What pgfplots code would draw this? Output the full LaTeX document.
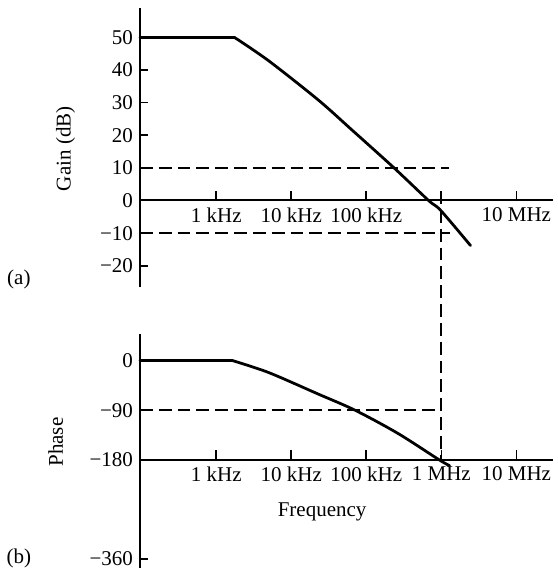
\documentclass[border=0pt]{standalone}
\usepackage{fontspec}
\setmainfont{Liberation Serif}
\usepackage{pgfplots}
\pgfplotsset{compat=1.18}
\usetikzlibrary{calc}

\tikzset{
  mycurve/.style={black, line width=1.4pt, line join=round, line cap=round},
  mydash/.style={black, line width=0.95pt, dash pattern=on 6.5pt off 3pt},
}

\begin{document}
\begin{tikzpicture}[font=\fontsize{10.6pt}{12.5pt}\selectfont]

% ---------- (a) Gain ----------
\begin{axis}[name=g1, at={(0,0)}, anchor=north west,
  scale only axis, width=208.5pt, height=141pt,
  xmode=log, xmin=96.2, xmax=3.09e7, ymin=-26.6, ymax=59,
  axis y line=left, axis x line=none, xtick=\empty,
  xminorticks=false, yminorticks=false,
  axis line style={line width=1pt, -},
  tick style={line width=0.8pt, black}, tick align=inside, major tick length=4pt,
  ytick={50,40,30,20,10,0,-10,-20},
  yticklabels={50,40,30,20,10,0,−10,−20},
  ylabel={Gain (dB)},
  every axis y label/.style={at={(axis description cs:-0.18,0.496)}, rotate=90, anchor=center},
  clip=false,
]
\node at (axis description cs:-0.293,0.028) {(a)};
\end{axis}

\begin{axis}[name=g2, at={(g1.north west)}, anchor=north west,
  scale only axis, width=208.5pt, height=97.17pt,
  xmode=log, xmin=96.2, xmax=3.09e7, ymin=0, ymax=59,
  axis x line=bottom, axis y line=none, ytick=\empty,
  xminorticks=false, yminorticks=false,
  axis line style={line width=1pt, -},
  tick style={line width=0.8pt, black}, tick align=inside, major tick length=5pt,
  xtick={1e3,1e4,1e5,1e6,1e7},
  xticklabels={1 kHz,10 kHz,100 kHz,{},10 MHz},
  clip=false,
]
% gain curve: flat part, then the roll-off
\addplot[mycurve] coordinates {(96.2,50) (1740,50)};
\addplot[mycurve, smooth, tension=0.5] coordinates {
  (1740,50) (5000,42.8) (22900,30.8) (63000,21.8)
  (234000,10) (676000,0) (977000,-3) (2450000,-13.8)
};
% dashed reference lines
\addplot[mydash] coordinates {(96.2,10) (1260000,10)};
\addplot[mydash] coordinates {(96.2,-10) (1320000,-10)};
\end{axis}

% ---------- (b) Phase ----------
\begin{axis}[name=p1, at={($(g1.south west)+(0,-23.35pt)$)}, anchor=north west,
  scale only axis, width=208.5pt, height=118.15pt,
  xmode=log, xmin=96.2, xmax=3.09e7, ymin=-376.2, ymax=49.1,
  axis y line=left, axis x line=none, xtick=\empty,
  xminorticks=false, yminorticks=false,
  axis line style={line width=1pt, -},
  tick style={line width=0.8pt, black}, tick align=inside, major tick length=4pt,
  ytick={0,-90,-180,-360},
  yticklabels={0,−90,−180,−360},
  ylabel={Phase},
  every axis y label/.style={at={(axis description cs:-0.204,0.537)}, rotate=90, anchor=center},
  clip=false,
]
\node at (axis description cs:-0.293,0.038) {(b)};
\end{axis}

\begin{axis}[name=p2, at={(p1.north west)}, anchor=north west,
  scale only axis, width=208.5pt, height=63.64pt,
  xmode=log, xmin=96.2, xmax=3.09e7, ymin=-180, ymax=49.1,
  axis x line=bottom, axis y line=none, ytick=\empty,
  xminorticks=false, yminorticks=false,
  axis line style={line width=1pt, -},
  tick style={line width=0.8pt, black}, tick align=inside, major tick length=5pt,
  xtick={1e3,1e4,1e5,1e6,1e7},
  xticklabels={1 kHz,10 kHz,100 kHz,1 MHz,10 MHz},
  xlabel={Frequency},
  every axis x label/.style={at={(axis description cs:0.441,-0.416)}, anchor=center},
  clip=false,
]
% phase curve: flat part, then the roll-off
\addplot[mycurve] coordinates {(96.2,0) (1660,0)};
\addplot[mycurve, smooth, tension=0.5] coordinates {
  (1660,0) (5000,-21.6) (22900,-60.7) (70800,-90)
  (263000,-132) (933000,-180) (1290000,-190.8)
};
\addplot[mydash] coordinates {(96.2,-90) (880000,-90)};
% vertical dashed line at 1 MHz (from +2.7 dB in the gain plot down to -180 deg)
\addplot[mydash] coordinates {(1e6,308) (1e6,-180)};
\end{axis}

% page size matching the reference proportions
\path ([xshift=-70pt, yshift=4pt]g1.north west) rectangle ++(279pt,-287.5pt);
\end{tikzpicture}
\end{document}
